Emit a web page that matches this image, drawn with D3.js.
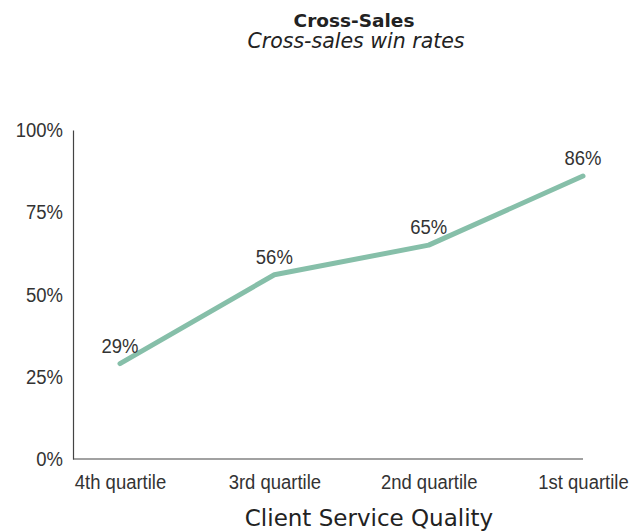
<!DOCTYPE html>
<html>
<head>
<meta charset="utf-8">
<script src="https://cdn.jsdelivr.net/npm/d3@7"></script>
<style>
  html, body { margin: 0; padding: 0; background: #fff; }
  svg { display: block; }
  .cond { font-family: "Liberation Sans", Arial, sans-serif; font-size: 21px; }
</style>
</head>
<body>
<svg id="chart" width="643" height="532"></svg>
<script>
const title = "Cross-Sales";
const subtitle = "Cross-sales win rates";
const xAxisTitle = "Client Service Quality";
const categories = ["4th quartile", "3rd quartile", "2nd quartile", "1st quartile"];
const winRates = [0.29, 0.56, 0.65, 0.86];
const yTicks = [0, 0.25, 0.5, 0.75, 1];

const svg = d3.select("#chart");
const textColor = "#333333";
const axisColor = "#444444";
const lineColor = "#86bfa9";
const squeeze = 0.88;

const plot = { left: 73, right: 583, top: 130, bottom: 459 };

const x = d3.scalePoint().domain(categories).range([120, plot.right]);
const y = d3.scaleLinear().domain([0, 1]).range([plot.bottom, plot.top]);

// Titles
svg.append("text")
  .attr("x", 354).attr("y", 27)
  .attr("text-anchor", "middle")
  .style("font-family", "'DejaVu Sans', sans-serif")
  .style("font-weight", "bold")
  .style("font-size", "18.5px")
  .style("fill", "#222")
  .text(title);
svg.append("text")
  .attr("x", 356).attr("y", 48)
  .attr("text-anchor", "middle")
  .style("font-family", "'DejaVu Sans', sans-serif")
  .style("font-style", "italic")
  .style("font-size", "20.5px")
  .style("fill", "#222")
  .text(subtitle);

// Y axis
const yAxis = d3.axisLeft(y).tickValues(yTicks).tickSize(0).tickPadding(10)
  .tickFormat(d3.format(".0%"));
const gy = svg.append("g").attr("transform", `translate(${plot.left},0)`).call(yAxis)
  .attr("font-family", null).attr("font-size", null);
gy.select(".domain").attr("stroke", axisColor).attr("stroke-width", 1.2);
gy.selectAll(".tick text").attr("class", "cond").style("fill", textColor)
  .attr("x", 0)
  .attr("transform", `translate(-10,0) scale(${squeeze},1)`);

// X axis
const xAxis = d3.axisBottom(x).tickSize(0).tickPadding(0);
const gx = svg.append("g").attr("transform", `translate(0,${plot.bottom})`).call(xAxis)
  .attr("font-family", null).attr("font-size", null);
gx.select(".domain").attr("d", `M${plot.left},0H${plot.right}`)
  .attr("stroke", axisColor).attr("stroke-width", 1.2);
gx.selectAll(".tick text").attr("class", "cond").style("fill", textColor)
  .attr("dy", null).attr("y", 0)
  .attr("transform", `translate(0,30) scale(${squeeze},1)`);

// X axis title
svg.append("text")
  .attr("x", 369).attr("y", 526)
  .attr("text-anchor", "middle")
  .style("font-family", "'DejaVu Sans', sans-serif")
  .style("font-size", "23px")
  .style("fill", "#222")
  .text(xAxisTitle);

// Line
const data = categories.map((c, i) => ({ c, v: winRates[i] }));
const line = d3.line().x(d => x(d.c)).y(d => y(d.v));
svg.append("path")
  .datum(data)
  .attr("d", line)
  .attr("fill", "none")
  .attr("stroke", lineColor)
  .attr("stroke-width", 5)
  .attr("stroke-linecap", "round")
  .attr("stroke-linejoin", "round");

// Data labels
svg.append("g").selectAll("text").data(data).join("text")
  .attr("class", "cond")
  .attr("transform", d => `translate(${x(d.c)},${y(d.v) - 11}) scale(${squeeze},1)`)
  .attr("text-anchor", "middle")
  .style("fill", textColor)
  .text(d => d3.format(".0%")(d.v));
</script>
</body>
</html>
